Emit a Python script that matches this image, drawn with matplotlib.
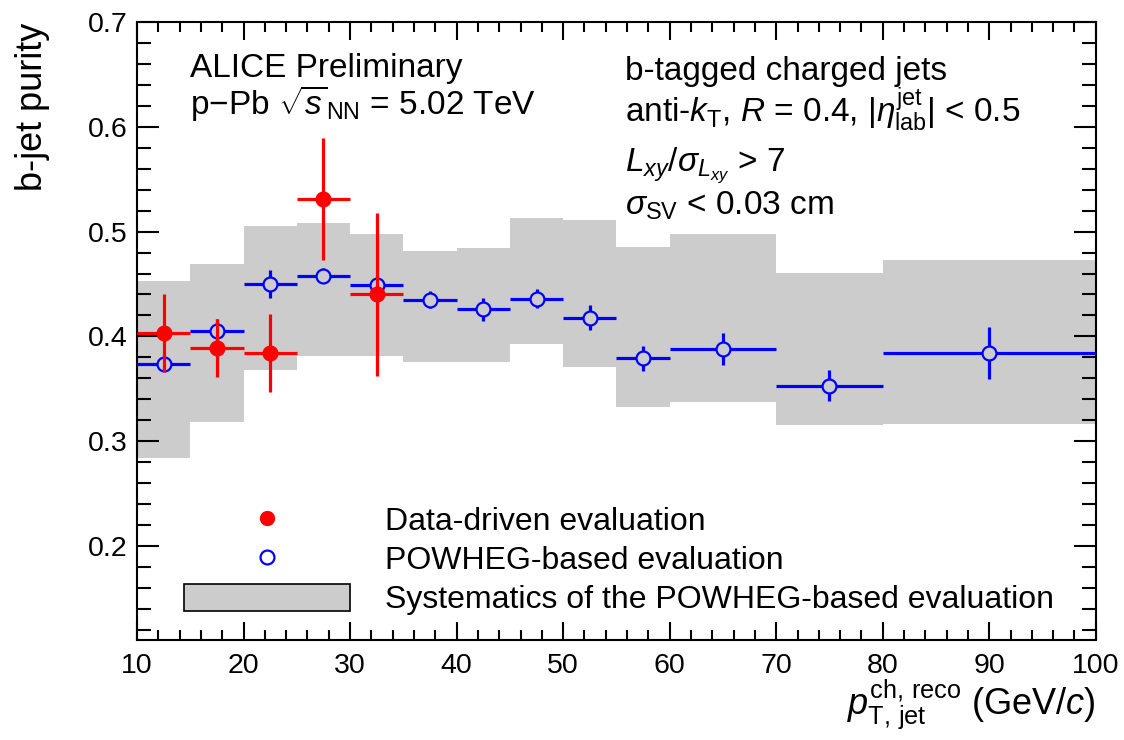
import numpy as np
import matplotlib
matplotlib.use("Agg")
import matplotlib.pyplot as plt
from matplotlib.lines import Line2D
from matplotlib.patches import Rectangle
from matplotlib.ticker import MultipleLocator

plt.rcParams['font.family'] = ['Liberation Sans', 'DejaVu Sans']
plt.rcParams['mathtext.fontset'] = 'custom'
plt.rcParams['mathtext.rm'] = 'Liberation Sans'
plt.rcParams['mathtext.it'] = 'Liberation Sans:italic'
plt.rcParams['mathtext.bf'] = 'Liberation Sans:bold'

# pT bins (GeV/c)
bin_lo = [10, 15, 20, 25, 30, 35, 40, 45, 50, 55, 60, 70, 80]
bin_hi = [15, 20, 25, 30, 35, 40, 45, 50, 55, 60, 70, 80, 100]

# POWHEG-based purity and its stat / syst
powheg = [0.374, 0.405, 0.450, 0.458, 0.449, 0.435, 0.426, 0.436, 0.418, 0.379, 0.388, 0.353, 0.384]
powheg_err = [0.004, 0.012, 0.013, 0.007, 0.006, 0.008, 0.011, 0.009, 0.012, 0.012, 0.015, 0.015, 0.025]
sys_hi = [0.453, 0.469, 0.505, 0.508, 0.498, 0.482, 0.484, 0.513, 0.511, 0.485, 0.498, 0.461, 0.473]
sys_lo = [0.284, 0.318, 0.368, 0.381, 0.381, 0.376, 0.376, 0.393, 0.371, 0.333, 0.337, 0.315, 0.316]

# data-driven purity (first five bins only)
data = [0.403, 0.389, 0.384, 0.531, 0.440]
data_err = [0.037, 0.028, 0.037, 0.058, 0.078]

lo = np.array(bin_lo, float)
hi = np.array(bin_hi, float)
xc = 0.5 * (lo + hi)

fig = plt.figure(figsize=(11.24, 7.4), dpi=100)
ax = fig.add_axes([0.1219, 0.135, 0.853, 0.835])
ax.set_xlim(10, 100)
ax.set_ylim(0.11, 0.7)

gray = '#cccccc'
ax.bar(lo, np.array(sys_hi) - np.array(sys_lo), bottom=sys_lo, width=hi - lo,
       align='edge', color=gray, linewidth=0, zorder=1)


def draw_points(x, xl, xh, y, ey, color, filled, z, r_px=7.0):
    # error bars with a gap around the marker, ROOT style
    for xi, a, b, yi, e in zip(x, xl, xh, y, ey):
        cx, cy = ax.transData.transform((xi, yi))
        gx = ax.transData.inverted().transform((cx + r_px, cy))[0] - xi
        gy = ax.transData.inverted().transform((cx, cy + r_px))[1] - yi
        if a < xi - gx:
            ax.plot([a, xi - gx], [yi, yi], color=color, lw=2.3, zorder=z, solid_capstyle='butt')
            ax.plot([xi + gx, b], [yi, yi], color=color, lw=2.3, zorder=z, solid_capstyle='butt')
        if e > gy:
            ax.plot([xi, xi], [yi + gy, yi + e], color=color, lw=2.3, zorder=z, solid_capstyle='butt')
            ax.plot([xi, xi], [yi - gy, yi - e], color=color, lw=2.3, zorder=z, solid_capstyle='butt')
    ax.plot(x, y, 'o', ms=10, mec=color, mfc=color if filled else 'none',
            mew=1.6, ls='none', zorder=z + 0.1)


draw_points(xc, lo, hi, powheg, powheg_err, 'blue', False, 3)
n = len(data)
draw_points(xc[:n], lo[:n], hi[:n], data, data_err, 'red', True, 4)

# axes styling
for s in ax.spines.values():
    s.set_linewidth(1.5)
ax.xaxis.set_major_locator(MultipleLocator(10))
ax.xaxis.set_minor_locator(MultipleLocator(2))
ax.yaxis.set_major_locator(MultipleLocator(0.1))
ax.yaxis.set_minor_locator(MultipleLocator(0.02))
ax.tick_params(which='both', direction='in', top=True, right=True, width=1.5, labelsize=20.5)
ax.tick_params(axis='x', which='major', length=13, pad=9)
ax.tick_params(axis='x', which='minor', length=7)
ax.tick_params(axis='y', which='major', length=16, pad=7)
ax.tick_params(axis='y', which='minor', length=10)
ax.set_yticks([0.2, 0.3, 0.4, 0.5, 0.6, 0.7])
ax.set_yticklabels(['0.2', '0.3', '0.4', '0.5', '0.6', '0.7'])

ax.text(1.0, -0.121, r'$p_{\mathrm{T,}\,\mathrm{jet}}^{\mathrm{ch,}\,\mathrm{reco}}$ (GeV/$c$)',
        transform=ax.transAxes, ha='right', va='baseline', fontsize=26)
ax.text(-0.109, 1.0, 'b-jet purity', transform=ax.transAxes, rotation=90,
        ha='center', va='top', fontsize=26)

# annotations
fs = 24
ax.text(0.055, 0.911, 'ALICE Preliminary', transform=ax.transAxes, fontsize=fs, va='baseline')
ax.text(0.055, 0.851, r'p$-$Pb $\sqrt{s}_{\mathrm{NN}}$ = 5.02 TeV', transform=ax.transAxes,
        fontsize=fs, va='baseline')
ax.text(0.509, 0.907, 'b-tagged charged jets', transform=ax.transAxes, fontsize=fs, va='baseline')
ax.text(0.509, 0.837, r'anti-$k_{\mathrm{T}}$, $R$ = 0.4, |$\eta^{\mathrm{jet}}_{\mathrm{lab}}$| < 0.5',
        transform=ax.transAxes, fontsize=fs, va='baseline')
ax.text(0.509, 0.760, r'$L_{xy}/\sigma_{L_{xy}}$ > 7', transform=ax.transAxes, fontsize=fs, va='baseline')
ax.text(0.509, 0.688, r'$\sigma_{\mathrm{SV}}$ < 0.03 cm', transform=ax.transAxes, fontsize=fs, va='baseline')

# legend
h_data = Line2D([], [], marker='o', ls='none', ms=10, mec='red', mfc='red')
h_pow = Line2D([], [], marker='o', ls='none', ms=10, mec='blue', mfc='none', mew=1.6)
h_sys = Rectangle((0, 0), 1, 1, facecolor=gray, edgecolor='black', linewidth=1.2)
ax.legend([h_data, h_pow, h_sys],
          ['Data-driven evaluation', 'POWHEG-based evaluation',
           'Systematics of the POWHEG-based evaluation'],
          loc='lower left', bbox_to_anchor=(0.049, 0.040), frameon=False, fontsize=23,
          handlelength=5.2, handleheight=0.9, handletextpad=1.1, labelspacing=0.24,
          borderpad=0, borderaxespad=0)

fig.savefig('out.png', dpi=100)
